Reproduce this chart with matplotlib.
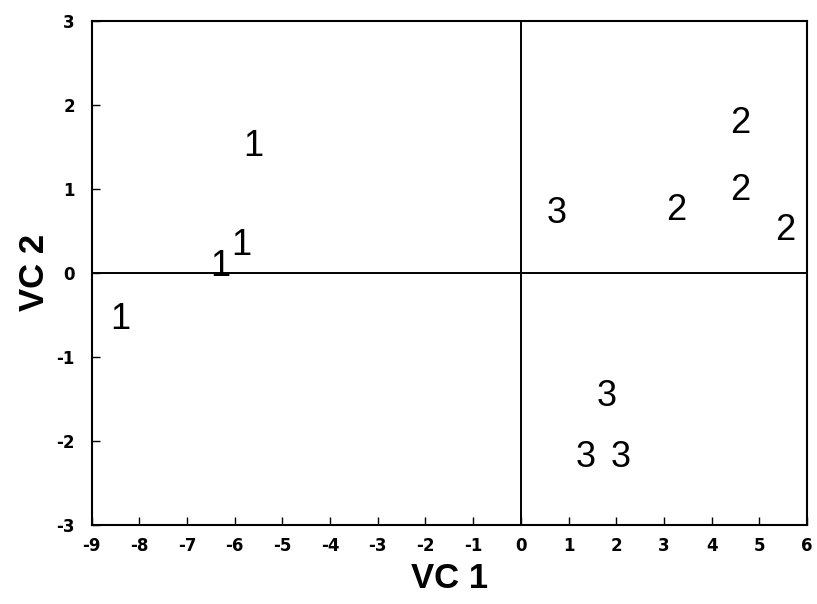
import matplotlib
matplotlib.use('Agg')
import matplotlib.pyplot as plt

plt.rcParams['axes.unicode_minus'] = False

# canonical variate scores, labelled by group
groups = ['1', '1', '1', '1', '2', '2', '2', '2', '3', '3', '3', '3']
vc1 = [-5.6, -5.85, -6.3, -8.4, 3.25, 4.6, 4.6, 5.55, 0.75, 1.8, 1.35, 2.1]
vc2 = [1.5, 0.32, 0.07, -0.56, 0.74, 1.77, 0.98, 0.5, 0.7, -1.47, -2.2, -2.2]

x_ticks = list(range(-9, 7))
y_ticks = list(range(-3, 4))

fig = plt.figure(figsize=(8.17, 6.04), dpi=100)
ax = fig.add_axes([0.112, 0.131, 0.876, 0.835])

for g, x, y in zip(groups, vc1, vc2):
    ax.text(x, y, g, ha='center', va='center', fontsize=26,
            family=['Liberation Sans', 'DejaVu Sans'])

ax.axhline(0, color='black', lw=1.4)
ax.axvline(0, color='black', lw=1.4)

ax.set_xlim(-9, 6)
ax.set_ylim(-3, 3)
ax.set_xticks(x_ticks)
ax.set_yticks(y_ticks)
ax.tick_params(direction='in', length=6, width=1)
ax.tick_params(axis='x', pad=9)
ax.tick_params(axis='y', pad=12)
for lab in ax.get_xticklabels() + ax.get_yticklabels():
    lab.set_fontsize(12)
    lab.set_fontweight('bold')
for s in ax.spines.values():
    s.set_linewidth(1.5)

label_font = dict(fontsize=25, fontweight='bold',
                  family=['Liberation Sans Narrow', 'Liberation Sans', 'DejaVu Sans'])
ax.set_xlabel('VC 1', labelpad=5, **label_font)
ax.set_ylabel('VC 2', labelpad=4, **label_font)

fig.savefig('out.png', dpi=100)
